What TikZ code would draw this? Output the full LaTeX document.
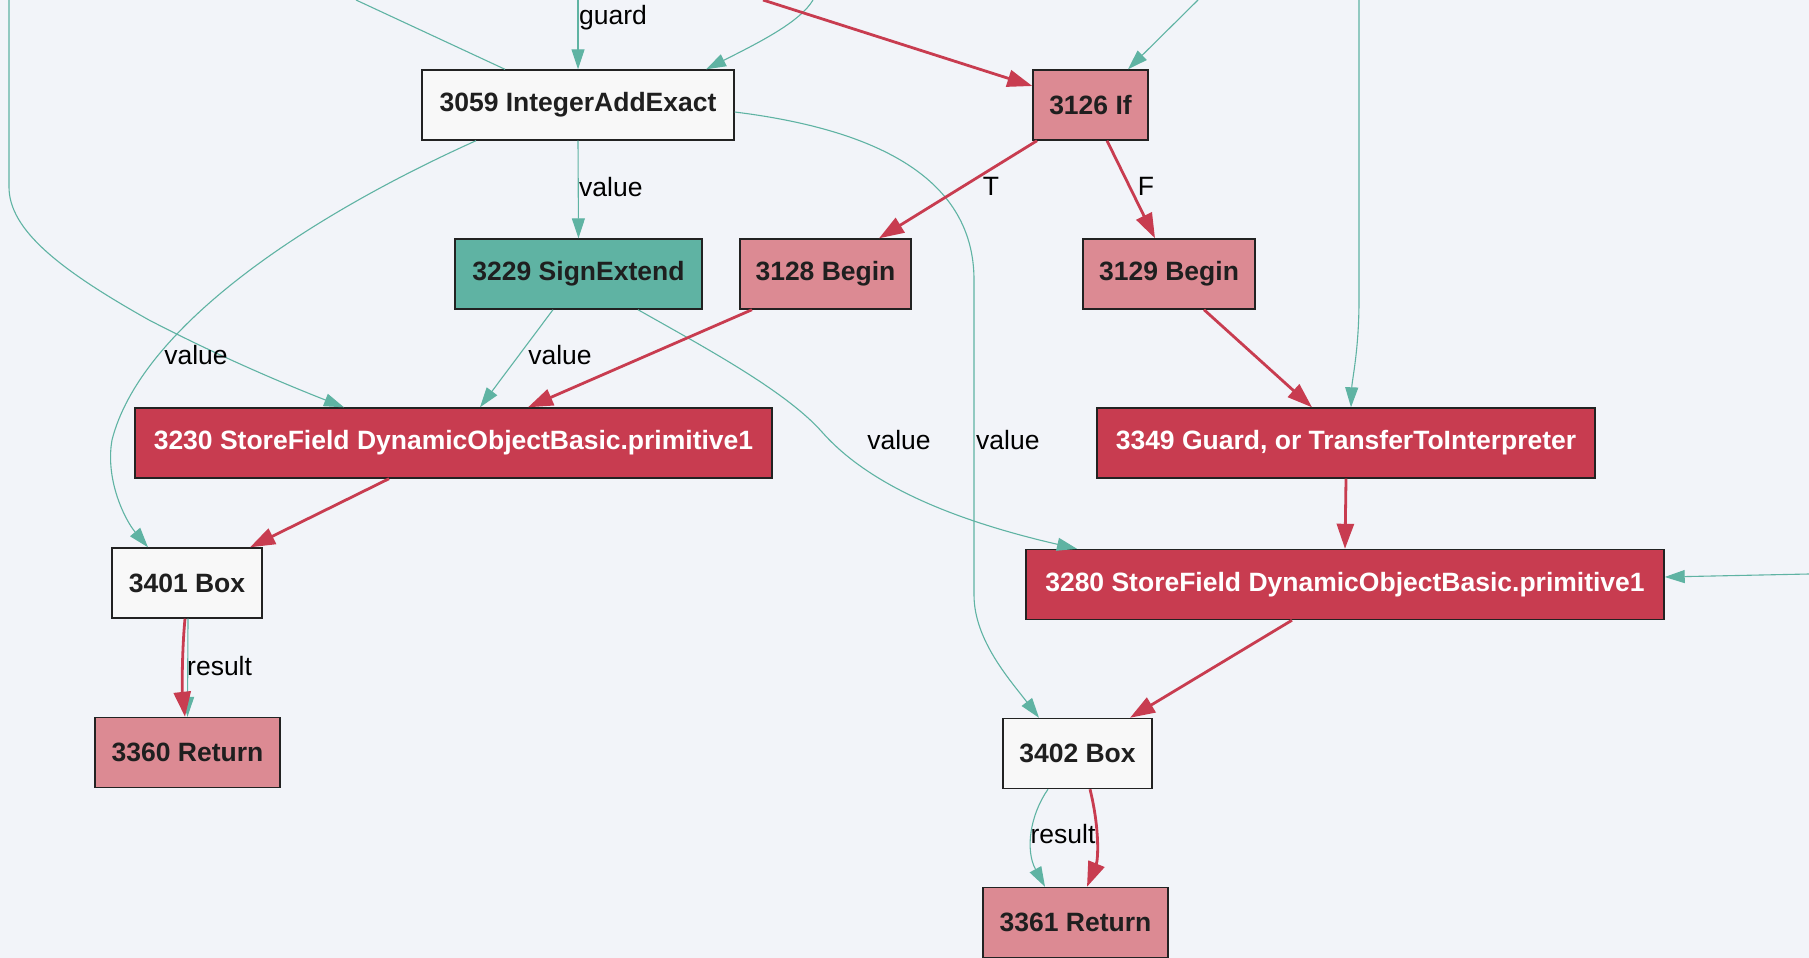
\documentclass[tikz,border=0pt]{standalone}
\usepackage{fontspec}
\setmainfont{Liberation Sans}
\usetikzlibrary{arrows.meta}
\definecolor{bgc}{HTML}{F2F4F9}
\definecolor{tealc}{HTML}{5FB3A3}
\definecolor{pinkc}{HTML}{DC8A93}
\definecolor{redc}{HTML}{C83C50}
\definecolor{whitec}{HTML}{F8F8F8}
\definecolor{framec}{HTML}{222222}

\begin{document}
\begin{tikzpicture}[x=1pt,y=-1pt,
  box/.style={draw=framec, line width=1.4pt, inner sep=0pt, minimum height=70pt,
    font=\fontsize{26.5}{30}\selectfont\bfseries},
  plainbox/.style={box, fill=whitec, text=black!88},
  tealbox/.style={box, fill=tealc, text=black!88},
  pinkbox/.style={box, fill=pinkc, text=black!88},
  redbox/.style={box, fill=redc, text=white},
  lbl/.style={inner sep=0pt, text=black, font=\fontsize{26.5}{30}\selectfont},
  dataedge/.style={draw=tealc, line width=1.1pt, -{Triangle[length=20pt,width=13pt]}},
  datapath/.style={draw=tealc, line width=1.1pt},
  ctrledge/.style={draw=redc, line width=2.8pt, -{Triangle[length=25pt,width=17pt]}},
]
\useasboundingbox (0,0) rectangle (1809,958);
\fill[bgc] (0,0) rectangle (1809,958);

% ---------- nodes ----------
\node[plainbox, minimum width=312pt] (n3059) at (578,105)   {3059 IntegerAddExact};
\node[pinkbox,  minimum width=115pt] (n3126) at (1090.5,105) {3126 If};
\node[tealbox,  minimum width=247pt] (n3229) at (578.5,274) {3229 SignExtend};
\node[pinkbox,  minimum width=171pt] (n3128) at (825.5,274) {3128 Begin};
\node[pinkbox,  minimum width=172pt] (n3129) at (1169,274)  {3129 Begin};
\node[redbox,   minimum width=637pt] (n3230) at (453.5,443) {3230 StoreField DynamicObjectBasic.primitive1};
\node[redbox,   minimum width=498pt] (n3349) at (1346,443)  {3349 Guard, or TransferToInterpreter};
\node[redbox,   minimum width=638pt] (n3280) at (1345,584.5) {3280 StoreField DynamicObjectBasic.primitive1};
\node[plainbox, minimum width=150pt] (n3401) at (187,583)   {3401 Box};
\node[pinkbox,  minimum width=185pt] (n3360) at (187.5,752.5) {3360 Return};
\node[plainbox, minimum width=149pt] (n3402) at (1077.5,753.5) {3402 Box};
\node[pinkbox,  minimum width=185pt] (n3361) at (1075.5,922.5) {3361 Return};

% ---------- loose ends of edges leaving the view ----------
\coordinate (ta) at (578,0);
\coordinate (tb) at (813,0);
\coordinate (tc) at (356,0);
\coordinate (td) at (9,0);
\coordinate (tj) at (1198,0);
\coordinate (tk) at (1359,0);
\coordinate (tl) at (1809,574);
\coordinate (tr) at (763,0);

% ---------- data edges ----------
\draw[dataedge] (ta) -- (n3059.north);
\draw[dataedge] (tb) .. controls (800,22) and (760,42) .. ([xshift=128pt]n3059.north);
\draw[datapath] ([xshift=-73pt]n3059.north) -- (tc);
\draw[dataedge] (td) -- (9,187) .. controls (9,230) and (60,270) .. (149,320)
   .. controls (230,362) and (300,390) .. ([xshift=-109.5pt]n3230.north);
\draw[dataedge] (n3059.south) -- (n3229.north);
\draw[dataedge] ([xshift=-102pt]n3059.south) .. controls (300,220) and (140,330) .. (112,440)
   .. controls (105,480) and (125,520) .. ([xshift=-39pt]n3401.north);
\draw[dataedge] ([yshift=-7pt]n3059.east) .. controls (880,130) and (974,180) .. (974,280)
   -- (974,595) .. controls (974,640) and (1010,680) .. ([xshift=-38.5pt]n3402.north);
\draw[dataedge] ([xshift=-25.5pt]n3229.south) -- ([xshift=26.5pt]n3230.north);
\draw[dataedge] ([xshift=59.5pt]n3229.south) .. controls (700,345) and (785,390) .. (822,432)
   .. controls (860,475) and (930,515) .. ([xshift=-268pt]n3280.north);
\draw[dataedge] (tj) -- ([xshift=37.5pt]n3126.north);
\draw[dataedge] (tk) -- (1359,300) .. controls (1359,350) and (1352,380) .. ([xshift=5pt]n3349.north);
\draw[dataedge] (tl) -- ([yshift=7.5pt]n3280.east);
\draw[dataedge] ([xshift=1pt]n3401.south) -- ([xshift=0pt]n3360.north);
\draw[dataedge] ([xshift=-29.5pt]n3402.south) .. controls (1030,815) and (1025,850) .. ([xshift=-30.5pt]n3361.north);

% ---------- control edges ----------
\draw[ctrledge] (tr) -- ([yshift=19pt]n3126.west);
\draw[ctrledge] ([xshift=-53.5pt]n3126.south) -- ([xshift=53.5pt]n3128.north);
\draw[ctrledge] ([xshift=16.5pt]n3126.south) -- ([xshift=-14pt]n3129.north);
\draw[ctrledge] ([xshift=-73.5pt]n3128.south) -- ([xshift=74.5pt]n3230.north);
\draw[ctrledge] ([xshift=35pt]n3129.south) -- ([xshift=-34pt]n3349.north);
\draw[ctrledge] (n3349.south) -- (n3280.north);
\draw[ctrledge] ([xshift=-64.5pt]n3230.south) -- ([xshift=63pt]n3401.north);
\draw[ctrledge] ([xshift=-53pt]n3280.south) -- ([xshift=52.5pt]n3402.north);
\draw[ctrledge] ([xshift=-2pt]n3401.south) .. controls (182,650) and (182,690) .. ([xshift=-2.5pt]n3360.north);
\draw[ctrledge] ([xshift=12.5pt]n3402.south) .. controls (1100,830) and (1098,860) .. ([xshift=11.5pt]n3361.north);

% ---------- edge labels ----------
\node[lbl, anchor=west] (lguard) at (579,18)  {guard};
\node[lbl, anchor=west] (lval1)  at (579,187) {value};
\node[lbl]              (lval2)  at (196,355) {value};
\node[lbl]              (lval3)  at (560,355) {value};
\node[lbl]              (lval4)  at (899,440) {value};
\node[lbl, anchor=west] (lval5)  at (976,440) {value};
\node[lbl]              (lT)     at (991,186) {T};
\node[lbl]              (lF)     at (1146,186) {F};
\node[lbl, anchor=west] (lres1)  at (187,666) {result};
\node[lbl]              (lres2)  at (1063,834) {result};
\end{tikzpicture}
\end{document}
